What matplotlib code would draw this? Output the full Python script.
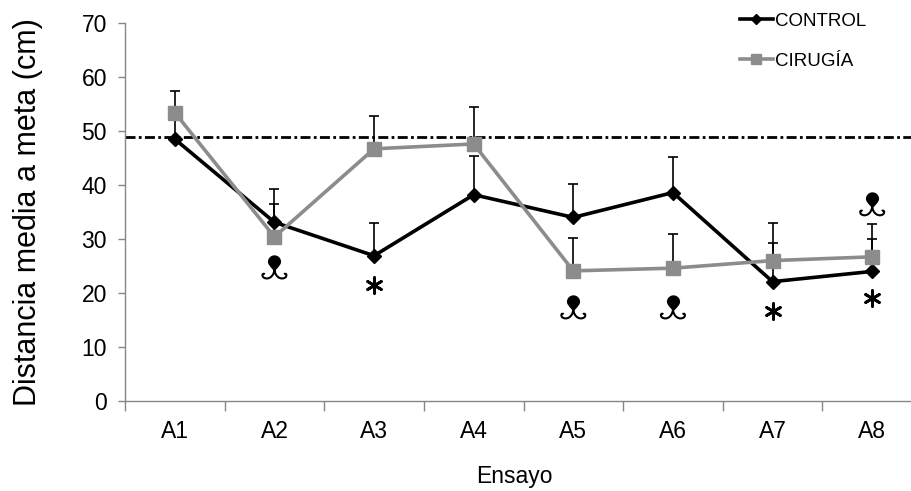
import numpy as np
import matplotlib
matplotlib.use("Agg")
import matplotlib.pyplot as plt
from matplotlib.path import Path

plt.rcParams["font.family"] = ["Liberation Sans", "DejaVu Sans"]

# Mean distance to goal per trial and top of the error bar
ensayos = ["A1", "A2", "A3", "A4", "A5", "A6", "A7", "A8"]
control = [48.5, 33.1, 26.9, 38.2, 34.0, 38.6, 22.1, 24.0]
control_top = [53.0, 39.3, 33.0, 45.4, 40.2, 45.2, 29.2, 30.0]
cirugia = [53.4, 30.4, 46.7, 47.6, 24.1, 24.6, 26.0, 26.7]
cirugia_top = [57.5, 36.4, 52.8, 54.5, 30.2, 31.0, 32.9, 32.7]
referencia = 48.9

# significance marks: asterisks and the second symbol
ast_idx = [2, 6, 7]
ast_y = [21.5, 16.7, 19.1]
sym_idx = [1, 4, 5, 7]
sym_y = [24.6, 17.2, 17.2, 36.3]

x = np.arange(len(ensayos)) + 0.5

fig = plt.figure(figsize=(9.11, 4.91), dpi=100)
ax = fig.add_axes([125 / 911, 1 - 401 / 491, 797 / 911, 378 / 491])

axis_col = "#868686"
gray = "#8c8c8c"

ax.axhline(referencia, color="black", lw=2, dashes=(3.6, 1.2, 1.0, 1.2), zorder=1)

for mean, top in [(control, control_top), (cirugia, cirugia_top)]:
    up = np.array(top) - np.array(mean)
    _, caps, _ = ax.errorbar(x, mean, yerr=[np.zeros_like(up), up], fmt="none",
                             ecolor="black", elinewidth=1.2, capsize=3.8, capthick=1.2, zorder=2)
    caps[0].set_visible(False)

ax.plot(x, control, color="black", lw=2.6, marker="D", ms=7, zorder=3, label="CONTROL")
ax.plot(x, cirugia, color=gray, lw=2.6, marker="s", ms=9.5, zorder=4, label="CIRUGÍA")

# asterisks
ax.scatter(x[ast_idx], ast_y, marker=(6, 2, 0), s=130, color="black", lw=2.0, zorder=5)

# teardrop bulb (round top, pointed bottom) with two curled tails underneath
t = np.linspace(0, 2 * np.pi, 60)
low = np.clip(-np.cos(t), 0, None)
bulb_verts = list(zip(0.30 * np.sin(t) * (1 - 0.55 * low ** 2),
                      0.30 + 0.30 * np.cos(t) - 0.10 * low ** 2))
bulb_path = Path(bulb_verts + [bulb_verts[0]], closed=True)
tail_verts = [(0, -0.08), (-0.04, -0.42), (-0.32, -0.55), (-0.5, -0.42),
              (-0.6, -0.32), (-0.52, -0.2), (-0.44, -0.28),
              (0, -0.08), (0.04, -0.42), (0.32, -0.55), (0.5, -0.42),
              (0.6, -0.32), (0.52, -0.2), (0.44, -0.28)]
tail_codes = [Path.MOVETO, Path.CURVE4, Path.CURVE4, Path.CURVE4,
              Path.CURVE4, Path.CURVE4, Path.CURVE4] * 2
tail_path = Path(tail_verts, tail_codes)
ax.scatter(x[sym_idx], sym_y, marker=bulb_path, s=360, color="black", lw=0, zorder=5)
ax.scatter(x[sym_idx], sym_y, marker=tail_path, s=360, facecolors="none",
           edgecolors="black", lw=1.5, zorder=5)

ax.set_xlim(0, len(ensayos))
ax.set_ylim(0, 70)
ax.set_yticks(range(0, 71, 10))
ax.set_xticks(range(0, len(ensayos) + 1))
ax.set_xticklabels([])
ax.set_xticks(x, minor=True)
ax.set_xticklabels(ensayos, minor=True)
ax.tick_params(axis="x", which="minor", length=0, pad=14, labelsize=16.5)
ax.tick_params(axis="x", which="major", length=7, color=axis_col, width=1)
ax.tick_params(axis="y", length=5, color=axis_col, width=1, labelsize=16.5, pad=8)

for s in ["top", "right"]:
    ax.spines[s].set_visible(False)
for s in ["left", "bottom"]:
    ax.spines[s].set_color(axis_col)
    ax.spines[s].set_linewidth(1)

ax.set_ylabel("Distancia media a meta (cm)", fontsize=22, labelpad=28)
ax.set_xlabel("Ensayo", fontsize=16.5, labelpad=18)
ax.xaxis.set_label_coords(0.488, -0.17)

leg = fig.legend(loc="upper left", bbox_to_anchor=(723 / 911, 1 + 4 / 491), frameon=False,
                 fontsize=13.5, handlelength=1.75, handletextpad=0.15, labelspacing=1.2,
                 markerscale=0.8)

fig.savefig("out.png", dpi=100)
